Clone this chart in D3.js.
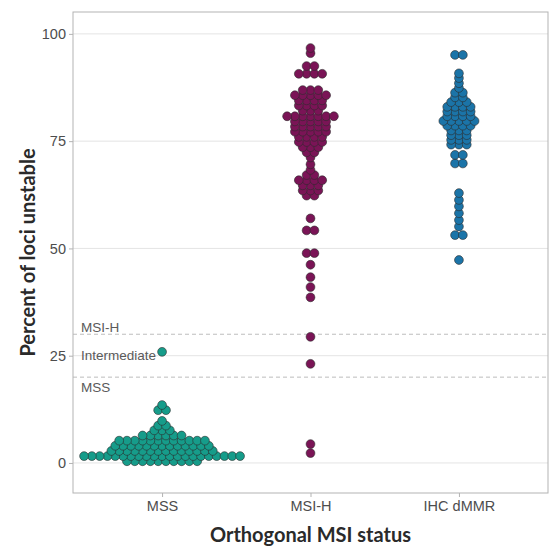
<!DOCTYPE html>
<html>
<head>
<meta charset="utf-8">
<script src="https://cdn.jsdelivr.net/npm/d3@7"></script>
<style>
  body { margin: 0; background: #fff; }
</style>
</head>
<body>
<div id="chart"></div>
<script>
var width = 553
var height = 550

// data
const groups = ["MSS", "MSI-H", "IHC dMMR"];
const groupColors = ["#169c8a", "#7a1456", "#1b74a8"];

const mssValues = [
  0.4, 0.4, 0.4, 0.4, 0.4, 0.4, 0.4, 0.4, 0.4, 0.4,
  1.6, 1.6, 1.6, 1.6, 1.6, 1.6, 1.6, 1.6, 1.6, 1.6, 1.6,
  1.6, 1.6, 1.6, 1.6, 1.6, 1.6, 1.6, 1.6, 1.6, 1.6,
  2.8, 2.8, 2.8, 2.8, 2.8, 2.8, 2.8, 2.8, 2.8, 2.8, 2.8, 2.8, 2.8, 2.8,
  4.0, 4.0, 4.0, 4.0, 4.0, 4.0, 4.0, 4.0, 4.0, 4.0, 4.0, 4.0, 4.0,
  5.2, 5.2, 5.2, 5.2, 5.2, 5.2, 5.2, 5.2, 5.2, 5.2, 5.2, 5.2,
  6.4, 6.4, 6.4, 6.4, 6.4, 6.4,
  7.6, 7.6, 7.6,
  8.7, 8.7,
  9.8,
  12.3, 12.3,
  13.5,
  25.9
];

const msiHValues = [
  2.3, 4.4, 23.1, 29.4, 38.6, 41.0, 43.3, 46.2, 48.9, 48.9,
  54.2, 54.2, 57.0,
  62.3, 62.3, 63.5, 63.5, 63.5, 64.7, 64.7, 64.7,
  65.9, 65.9, 65.9, 65.9, 67.1, 67.1, 68.3, 69.6,
  71.2, 72.4, 72.4, 73.6, 73.6, 73.6, 74.8, 74.8, 74.8, 74.8,
  76.0, 76.0, 76.0, 76.0, 77.2, 77.2, 77.2, 77.2, 77.2,
  78.4, 78.4, 78.4, 78.4, 78.4, 79.6, 79.6, 79.6, 79.6, 79.6,
  80.8, 80.8, 80.8, 80.8, 80.8, 80.8, 80.8,
  82.1, 82.1, 82.1, 83.3, 83.3, 83.3, 83.3,
  84.5, 84.5, 84.5, 84.5, 85.7, 85.7, 85.7, 85.7, 85.7,
  86.9, 86.9, 86.9,
  90.7, 90.7, 90.7, 90.7, 92.5, 92.5, 95.5, 96.7
];

const ihcValues = [
  47.3, 53.1, 53.1, 55.1, 56.6, 58.2, 59.8, 61.3, 62.9,
  69.8, 69.8, 71.8, 71.8,
  74.2, 74.2, 74.2, 75.3, 75.3, 75.3, 76.4, 76.4, 76.4,
  77.5, 77.5, 77.5, 78.6, 78.6, 78.6, 78.6,
  79.7, 79.7, 79.7, 79.7, 79.7, 80.8, 80.8, 80.8, 80.8,
  81.9, 81.9, 81.9, 81.9, 83.0, 83.0, 83.0, 83.0,
  84.1, 84.1, 84.1, 85.2, 85.2, 86.3, 86.3,
  87.4, 88.5, 89.7, 90.8, 95.1, 95.1
];

const yTicks = [0, 25, 50, 75, 100];
const cutoffs = [20, 30];
const cutoffLabels = ["MSI-H", "Intermediate", "MSS"];
const cutoffLabelValues = [31.7, 25.2, 17.6];

const margin = {top: 12, right: 5, bottom: 57, left: 73};
const innerWidth = width - margin.left - margin.right;
const innerHeight = height - margin.top - margin.bottom;

var svg = d3.select("#chart").append("svg")
    .attr("width", width)
    .attr("height", height)

const g = svg.append("g")
    .attr("transform", `translate(${margin.left}, ${margin.top})`)

const xScale = d3.scalePoint()
    .domain(groups)
    .range([0, innerWidth])
    .padding(0.6);

const yScale = d3.scaleLinear()
    .domain([-7, 105.1])
    .range([innerHeight, 0]);

// grid
g.selectAll(".grid").data(yTicks)
  .enter().append("line")
    .attr("x1", 0).attr("x2", innerWidth)
    .attr("y1", d => yScale(d)).attr("y2", d => yScale(d))
    .attr("stroke", "#e4e4e4")
    .attr("stroke-width", 1);

// cutoff lines
g.selectAll(".cut").data(cutoffs)
  .enter().append("line")
    .attr("x1", 0).attr("x2", innerWidth)
    .attr("y1", d => yScale(d)).attr("y2", d => yScale(d))
    .attr("stroke", "#bdbdbd")
    .attr("stroke-width", 1)
    .attr("stroke-dasharray", "4,3");

g.selectAll(".cutlab").data(cutoffLabels)
  .enter().append("text")
    .attr("x", 8)
    .attr("y", (d, i) => yScale(cutoffLabelValues[i]))
    .attr("dy", "0.35em")
    .attr("font-family", "Liberation Sans, Arial, sans-serif")
    .attr("font-size", 13.5)
    .attr("fill", "#5a5a5a")
    .text(d => d);

// swarm layout: points kept apart sideways (dx) unless far enough apart vertically (dy)
const dx = 7.8;
const dy = 4.5;
function swarm(values) {
  const pts = values.map(v => ({v: v, y: yScale(v)})).sort((a, b) => a.v - b.v);
  const placed = [];
  const hits = (c, p) => placed.some(q => ((q.x - c) / dx) ** 2 + ((q.y - p.y) / dy) ** 2 < 0.999);
  pts.forEach(p => {
    const cands = [0];
    placed.forEach(q => {
      const t = Math.abs(q.y - p.y) / dy;
      if (t < 1) {
        const off = dx * Math.sqrt(1 - t * t);
        cands.push(q.x + off, q.x - off);
      }
    });
    cands.sort((a, b) => Math.abs(a) - Math.abs(b));
    p.x = cands.find(c => !hits(c, p));
    placed.push(p);
  });
  // centre each row of equal values
  d3.group(placed, d => d.v).forEach(row => {
    const m = d3.mean(row, d => d.x);
    row.forEach(d => { d.x -= m; });
  });
  return placed;
}

const series = [mssValues, msiHValues, ihcValues];
series.forEach((vals, i) => {
  const cx = xScale(groups[i]);
  g.append("g").selectAll("circle").data(swarm(vals))
    .enter().append("circle")
      .attr("cx", d => cx + d.x)
      .attr("cy", d => d.y)
      .attr("r", 4.4)
      .attr("fill", groupColors[i])
      .attr("stroke", "#2b2b2b")
      .attr("stroke-width", 0.6);
});

// panel border
g.append("rect")
    .attr("width", innerWidth)
    .attr("height", innerHeight)
    .attr("fill", "none")
    .attr("stroke", "#b3b3b3")
    .attr("stroke-width", 1);

// axes
const yAxis = d3.axisLeft(yScale).tickValues(yTicks).tickSize(4).tickPadding(3);
const xAxis = d3.axisBottom(xScale).tickSize(4).tickPadding(4);

const yG = g.append("g").call(yAxis);
const xG = g.append("g").attr("transform", `translate(0, ${innerHeight})`).call(xAxis);

[yG, xG].forEach(a => {
  a.select(".domain").remove();
  a.selectAll(".tick line").attr("stroke", "#b3b3b3");
  a.selectAll(".tick text")
    .attr("fill", "#4d4d4d")
    .attr("font-size", 14.5)
    .attr("font-family", "Liberation Sans, Arial, sans-serif");
});

// titles
svg.append("text")
    .attr("transform", `translate(35, ${margin.top + innerHeight / 2}) rotate(-90)`)
    .attr("text-anchor", "middle")
    .attr("font-family", "Lato, sans-serif")
    .attr("font-weight", "bold")
    .attr("font-size", 20)
    .attr("fill", "#2a2a2a")
    .text("Percent of loci unstable");

svg.append("text")
    .attr("x", margin.left + innerWidth / 2)
    .attr("y", 542)
    .attr("text-anchor", "middle")
    .attr("font-family", "Lato, sans-serif")
    .attr("font-weight", "bold")
    .attr("font-size", 20)
    .attr("fill", "#2a2a2a")
    .text("Orthogonal MSI status");
</script>
</body>
</html>
